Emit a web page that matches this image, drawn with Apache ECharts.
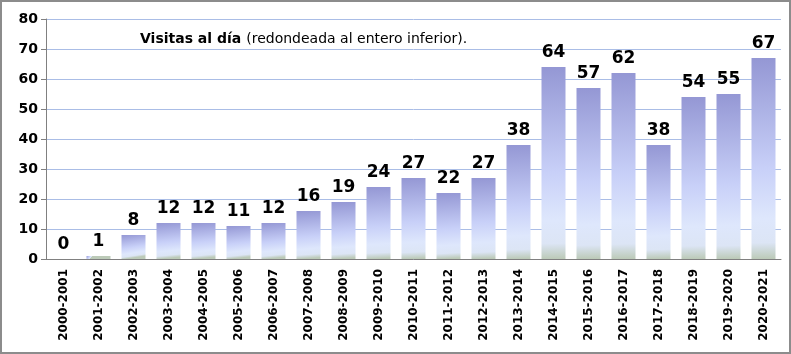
<!DOCTYPE html>
<html>
<head>
<meta charset="utf-8">
<script src="https://cdn.jsdelivr.net/npm/echarts@6/dist/echarts.min.js"></script>
<style>
html, body { margin: 0; padding: 0; background: #fff; }
#chart { width: 791px; height: 354px; box-sizing: border-box; border: 2px solid #8c8c8c; }
</style>
</head>
<body>
<div id="chart"></div>
<script>
// temporadas y visitas al dia
var seasons = ['2000-2001', '2001-2002', '2002-2003', '2003-2004', '2004-2005', '2005-2006',
    '2006-2007', '2007-2008', '2008-2009', '2009-2010', '2010-2011', '2011-2012', '2012-2013',
    '2013-2014', '2014-2015', '2015-2016', '2016-2017', '2017-2018', '2018-2019', '2019-2020', '2020-2021'];
var visits = [0, 1, 8, 12, 12, 11, 12, 16, 19, 24, 27, 22, 27, 38, 64, 57, 62, 38, 54, 55, 67];
var yTicks = [0, 10, 20, 30, 40, 50, 60, 70, 80];

var font = 'Verdana, "DejaVu Sans", sans-serif';
var myChart = echarts.init(document.getElementById('chart'));
var option = {
    animation: false,
    title: {
        text: '{b|Visitas al día} {n|(redondeada al entero inferior).}',
        left: 133,
        top: 23,
        textStyle: {
            fontWeight: 'normal',
            rich: {
                b: { fontFamily: font, fontWeight: 'bold', fontSize: 14, color: '#000' },
                n: { fontFamily: font, fontWeight: 'normal', fontSize: 14, color: '#000' }
            }
        }
    },
    grid: { left: 44, right: 8, top: 17, bottom: 93 },
    xAxis: {
        type: 'category',
        data: seasons,
        axisLine: { lineStyle: { color: '#808080' } },
        axisTick: { length: 5, lineStyle: { color: '#808080' } },
        axisLabel: {
            rotate: 90,
            margin: 10,
            fontFamily: font,
            fontWeight: 'bold',
            fontSize: 12,
            color: '#000'
        }
    },
    yAxis: {
        type: 'value',
        min: yTicks[0],
        max: yTicks[yTicks.length - 1],
        interval: 10,
        axisLine: { show: true, lineStyle: { color: '#808080' } },
        axisTick: { show: true, length: 5, lineStyle: { color: '#808080' } },
        splitLine: { lineStyle: { color: '#aabde6' } },
        axisLabel: {
            margin: 8,
            fontFamily: font,
            fontWeight: 'bold',
            fontSize: 14,
            color: '#000'
        }
    },
    series: [{
        type: 'bar',
        data: visits,
        barWidth: 24,
        itemStyle: {
            color: new echarts.graphic.LinearGradient(0, 0, 0.15, 1, [
                { offset: 0, color: '#9497d4' },
                { offset: 0.55, color: '#c8d0f8' },
                { offset: 0.8, color: '#dee7fc' },
                { offset: 0.92, color: '#dce5f5' },
                { offset: 1, color: '#bccab8' }
            ])
        },
        label: {
            show: true,
            position: 'top',
            distance: 6,
            fontFamily: font,
            fontWeight: 'bold',
            fontSize: 17,
            color: '#000'
        }
    }]
};
myChart.setOption(option);
</script>
</body>
</html>
